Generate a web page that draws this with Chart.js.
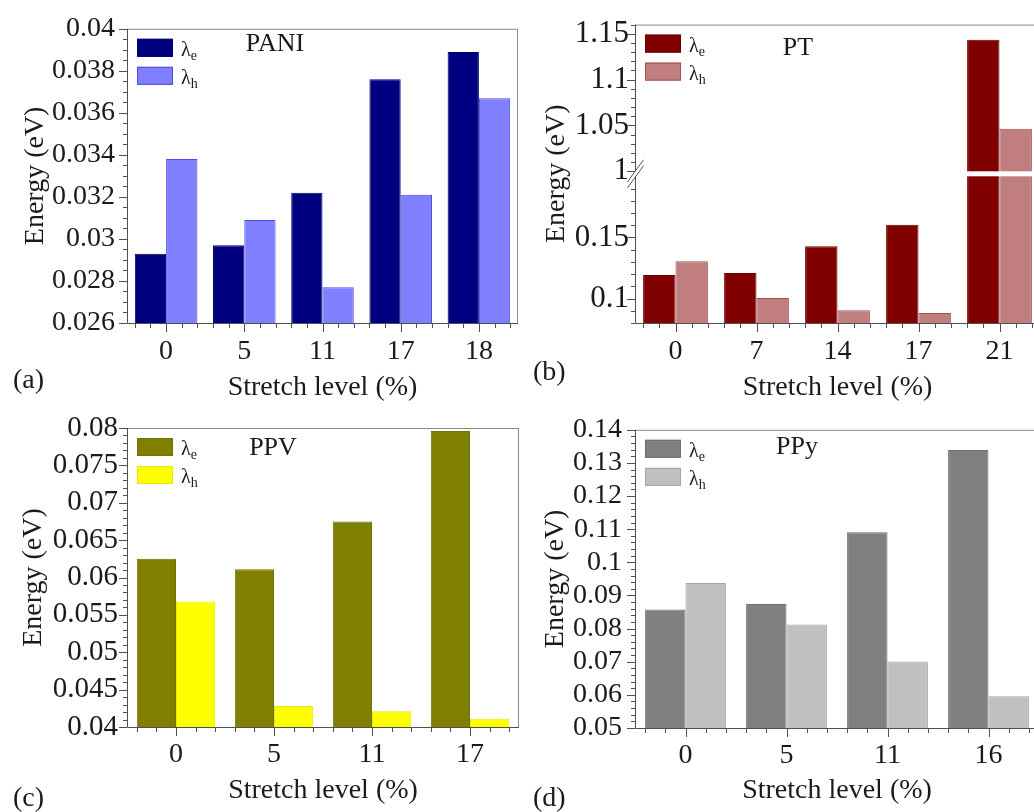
<!DOCTYPE html>
<html>
<head>
<meta charset="utf-8">
<script src="https://cdn.jsdelivr.net/npm/chart.js@4.4.1/dist/chart.umd.min.js"></script>
<style>
  html, body { margin: 0; padding: 0; background: #fff; }
  body { position: relative; width: 1034px; height: 812px; overflow: hidden; }
  canvas { position: absolute; }
</style>
</head>
<body>
<canvas id="pani" width="520" height="410" style="left:0;top:0"></canvas>
<canvas id="pt" width="540" height="410" style="left:520px;top:0"></canvas>
<canvas id="ppv" width="520" height="412" style="left:0;top:400px"></canvas>
<canvas id="ppy" width="540" height="412" style="left:520px;top:400px"></canvas>
<script>

// PANI
const paniLevels = ['0', '5', '11', '17', '18'];
const paniElectron = [0.0293, 0.0297, 0.0322, 0.0376, 0.0389];
const paniHole = [0.0338, 0.0309, 0.0277, 0.0321, 0.0367];
const paniTicks = [0.026, 0.028, 0.03, 0.032, 0.034, 0.036, 0.038, 0.04];

// PT (axis broken between 0.2 and 1)
const ptLevels = ['0', '7', '14', '17', '21'];
const ptElectron = [0.1192, 0.1208, 0.1427, 0.1603, 1.1435];
const ptHole = [0.1305, 0.1005, 0.0905, 0.0881, 1.0465];
const ptTicks = [0.1, 0.15, 1, 1.05, 1.1, 1.15];

// PPV
const ppvLevels = ['0', '5', '11', '17'];
const ppvElectron = [0.0625, 0.0611, 0.0675, 0.0796];
const ppvHole = [0.0568, 0.0428, 0.0421, 0.0411];
const ppvTicks = [0.04, 0.045, 0.05, 0.055, 0.06, 0.065, 0.07, 0.075, 0.08];

// PPy
const ppyLevels = ['0', '5', '11', '16'];
const ppyElectron = [0.0858, 0.0874, 0.1091, 0.1339];
const ppyHole = [0.0938, 0.0812, 0.0701, 0.0596];
const ppyTicks = [0.05, 0.06, 0.07, 0.08, 0.09, 0.1, 0.11, 0.12, 0.13, 0.14];

const serif = '"Liberation Serif", "Times New Roman", serif';
const ink = '#1a1a1a';

// linear scale with two pieces: [min, low] at the bottom, [high, max] on top
class BrokenScale extends Chart.LinearScale {
    getPixelForValue(value) {
        const brk = this.options.brk;
        const span = (this.bottom - this.top - brk.gap) / 2;
        if (value <= brk.low) {
            return this.bottom - (value - this.min) / (brk.low - this.min) * span;
        }
        if (value >= brk.high) {
            return this.top + (this.max - value) / (this.max - brk.high) * span;
        }
        return this.top + span + brk.gap / 2;
    }
    getValueForPixel(pixel) {
        const brk = this.options.brk;
        const span = (this.bottom - this.top - brk.gap) / 2;
        if (pixel >= this.bottom - span) {
            return this.min + (this.bottom - pixel) / span * (brk.low - this.min);
        }
        return this.max - (pixel - this.top) / span * (this.max - brk.high);
    }
}
BrokenScale.id = 'broken';
BrokenScale.defaults = Chart.LinearScale.defaults;
Chart.register(BrokenScale);

const panelDecor = {
    id: 'panelDecor',
    afterDraw(chart, args, opts) {
        const { ctx, chartArea: area, scales: { x, y } } = chart;
        ctx.save();

        if (opts.brk) {
            const yTop = y.getPixelForValue(opts.brk.high);
            const yBottom = y.getPixelForValue(opts.brk.low);
            ctx.fillStyle = '#fff';
            ctx.fillRect(area.left + 1, yTop, area.right - area.left, yBottom - yTop);
        }

        // frame
        ctx.lineWidth = 1;
        ctx.strokeStyle = '#8a8a8a';
        ctx.beginPath();
        ctx.moveTo(area.left, area.top + 0.5);
        ctx.lineTo(area.right, area.top + 0.5);
        ctx.moveTo(area.right - 0.5, area.top);
        ctx.lineTo(area.right - 0.5, area.bottom);
        ctx.stroke();

        ctx.strokeStyle = '#505050';
        ctx.beginPath();
        ctx.moveTo(area.left + 0.5, area.top);
        ctx.lineTo(area.left + 0.5, area.bottom + 0.5);
        ctx.lineTo(area.right, area.bottom + 0.5);

        // x ticks: major at each level, minor every fifth of a category
        chart.data.labels.forEach((lab, i) => {
            [-0.4, -0.2, 0, 0.2, 0.4].forEach(d => {
                const px = Math.round(x.getPixelForValue(i + d)) + 0.5;
                ctx.moveTo(px, area.bottom);
                ctx.lineTo(px, area.bottom + (d === 0 ? 9 : 5));
            });
        });

        // y ticks
        const majors = y.ticks.map(t => t.value);
        const step = opts.minorStep;
        (opts.ranges || [[y.min, y.max]]).forEach(([lo, hi]) => {
            for (let k = Math.round(lo / step); k * step <= hi + step / 100; k++) {
                const v = k * step;
                const major = majors.some(m => Math.abs(m - v) < step / 10);
                const py = Math.round(y.getPixelForValue(v)) + 0.5;
                ctx.moveTo(area.left - (major ? 8 : 4), py);
                ctx.lineTo(area.left, py);
            }
        });
        ctx.stroke();

        // axis break mark
        if (opts.brk) {
            const by = (y.getPixelForValue(opts.brk.high) + y.getPixelForValue(opts.brk.low)) / 2;
            const bx = area.left + 0.5;
            ctx.fillStyle = '#fff';
            ctx.beginPath();
            ctx.moveTo(bx - 8, by + 8);
            ctx.lineTo(bx + 8, by - 14);
            ctx.lineTo(bx + 8, by - 8);
            ctx.lineTo(bx - 8, by + 14);
            ctx.closePath();
            ctx.fill();
            ctx.strokeStyle = '#505050';
            ctx.beginPath();
            ctx.moveTo(bx - 8, by + 8);
            ctx.lineTo(bx + 8, by - 14);
            ctx.moveTo(bx - 8, by + 14);
            ctx.lineTo(bx + 8, by - 8);
            ctx.stroke();
        }

        // legend inside the plot
        chart.data.datasets.forEach((ds, i) => {
            const bx = area.left + 10;
            const byy = area.top + 10 + i * 28;
            ctx.fillStyle = ds.backgroundColor;
            ctx.fillRect(bx, byy, 36, 18);
            ctx.strokeStyle = ds.borderColor;
            ctx.strokeRect(bx + 0.5, byy + 0.5, 35, 17);
            ctx.fillStyle = ink;
            ctx.textAlign = 'left';
            ctx.textBaseline = 'alphabetic';
            ctx.font = '20px ' + serif;
            const tx = bx + 44;
            ctx.fillText(ds.label[0], tx, byy + 17);
            const w = ctx.measureText(ds.label[0]).width;
            ctx.font = '14px ' + serif;
            ctx.fillText(ds.label.slice(1), tx + w, byy + 21);
        });

        // polymer name
        ctx.font = '26px ' + serif;
        ctx.textAlign = 'center';
        ctx.fillStyle = ink;
        ctx.fillText(opts.name, area.left + opts.nameX, area.top + opts.nameY);

        // panel letter
        ctx.font = '28px ' + serif;
        ctx.textAlign = 'left';
        ctx.fillText(opts.letter, 13, opts.letterY);

        ctx.restore();
    }
};

function barSet(label, values, fill, border, base) {
    return {
        label: label,
        data: values,
        backgroundColor: fill,
        borderColor: border,
        borderWidth: 1,
        base: base,
        clip: 0,
        categoryPercentage: 0.8,
        barPercentage: 1.0
    };
}

function makePanel(id, p) {

    const ctx = document.getElementById(id).getContext('2d');

    const yAxis = {
        type: p.brk ? 'broken' : 'linear',
        min: p.min,
        max: p.max,
        grid: { display: false, drawTicks: false },
        border: { display: false },
        afterBuildTicks: s => { s.ticks = p.ticks.map(v => ({ value: v })); },
        afterFit: s => { s.width = p.yWidth; },
        ticks: {
            autoSkip: false,
            padding: p.yPad,
            color: ink,
            font: { family: serif, size: p.ySize || 28 },
            callback: v => String(+Number(v).toFixed(4))
        },
        title: {
            display: true,
            text: 'Energy (eV)',
            color: ink,
            font: { family: serif, size: 28 },
            padding: { top: p.yTitle, bottom: 0 }
        }
    };
    if (p.brk) {
        yAxis.brk = p.brk;
    }

    return new Chart(ctx, {
        type: 'bar',
        data: {
            labels: p.levels,
            datasets: [
                barSet('λe', p.electron, p.fills[0], p.borders[0], p.min),
                barSet('λh', p.hole, p.fills[1], p.borders[1], p.min)
            ]
        },
        options: {
            responsive: false,
            animation: false,
            layout: { padding: { top: p.top, right: p.right, left: 0, bottom: 0 } },
            plugins: {
                legend: { display: false },
                tooltip: { enabled: false },
                panelDecor: {
                    name: p.name,
                    nameX: p.nameX,
                    nameY: p.nameY,
                    letter: p.letter,
                    letterY: p.letterY,
                    minorStep: p.minorStep,
                    ranges: p.ranges,
                    brk: p.brk
                }
            },
            scales: {
                x: {
                    type: 'category',
                    offset: true,
                    grid: { display: false, drawTicks: false },
                    border: { display: false },
                    afterFit: s => { s.height = p.xHeight; },
                    ticks: {
                        maxRotation: 0,
                        autoSkip: false,
                        padding: p.xPad,
                        color: ink,
                        font: { family: serif, size: 28 }
                    },
                    title: {
                        display: true,
                        text: 'Stretch level (%)',
                        color: ink,
                        font: { family: serif, size: 28 },
                        padding: { top: 0, bottom: p.xTitle }
                    }
                },
                y: yAxis
            }
        },
        plugins: [panelDecor]
    });
}

makePanel('pani', {
    levels: paniLevels, electron: paniElectron, hole: paniHole, ticks: paniTicks,
    min: 0.026, max: 0.04, minorStep: 0.0005,
    fills: ['#000080', '#8080ff'], borders: ['#00006e', '#4a4af0'],
    top: 25, right: 2, yWidth: 127, xHeight: 87, yPad: 12, xPad: 12, yTitle: 19, xTitle: 6,
    name: 'PANI', nameX: 148, nameY: 22, letter: '(a)', letterY: 388
});

makePanel('pt', {
    levels: ptLevels, electron: ptElectron, hole: ptHole, ticks: ptTicks,
    min: 0.08, max: 1.16, minorStep: 0.01,
    brk: { low: 0.2, high: 1.0, gap: 5 },
    ranges: [[0.08, 0.2], [1.0, 1.16]],
    fills: ['#800000', '#c07e7e'], borders: ['#6c0000', '#a05454'],
    top: 17, right: 20, yWidth: 115, xHeight: 87, yPad: 6, ySize: 31, xPad: 12, yTitle: 20, xTitle: 6,
    name: 'PT', nameX: 163, nameY: 30, letter: '(b)', letterY: 380
});

makePanel('ppv', {
    levels: ppvLevels, electron: ppvElectron, hole: ppvHole, ticks: ppvTicks,
    min: 0.04, max: 0.08, minorStep: 0.001,
    fills: ['#808000', '#ffff00'], borders: ['#727200', '#e8e800'],
    top: 28, right: 1, yWidth: 127, xHeight: 85, yPad: 9, ySize: 29, xPad: 11, yTitle: 17, xTitle: 5,
    name: 'PPV', nameX: 146, nameY: 27, letter: '(c)', letterY: 406
});

makePanel('ppy', {
    levels: ppyLevels, electron: ppyElectron, hole: ppyHole, ticks: ppyTicks,
    min: 0.05, max: 0.14, minorStep: 0.002,
    fills: ['#808080', '#c0c0c0'], borders: ['#6e6e6e', '#a4a4a4'],
    top: 29, right: 21, yWidth: 115, xHeight: 84, yPad: 13, xPad: 11, yTitle: 19, xTitle: 5,
    name: 'PPy', nameX: 162, nameY: 24, letter: '(d)', letterY: 406
});

</script>
</body>
</html>
